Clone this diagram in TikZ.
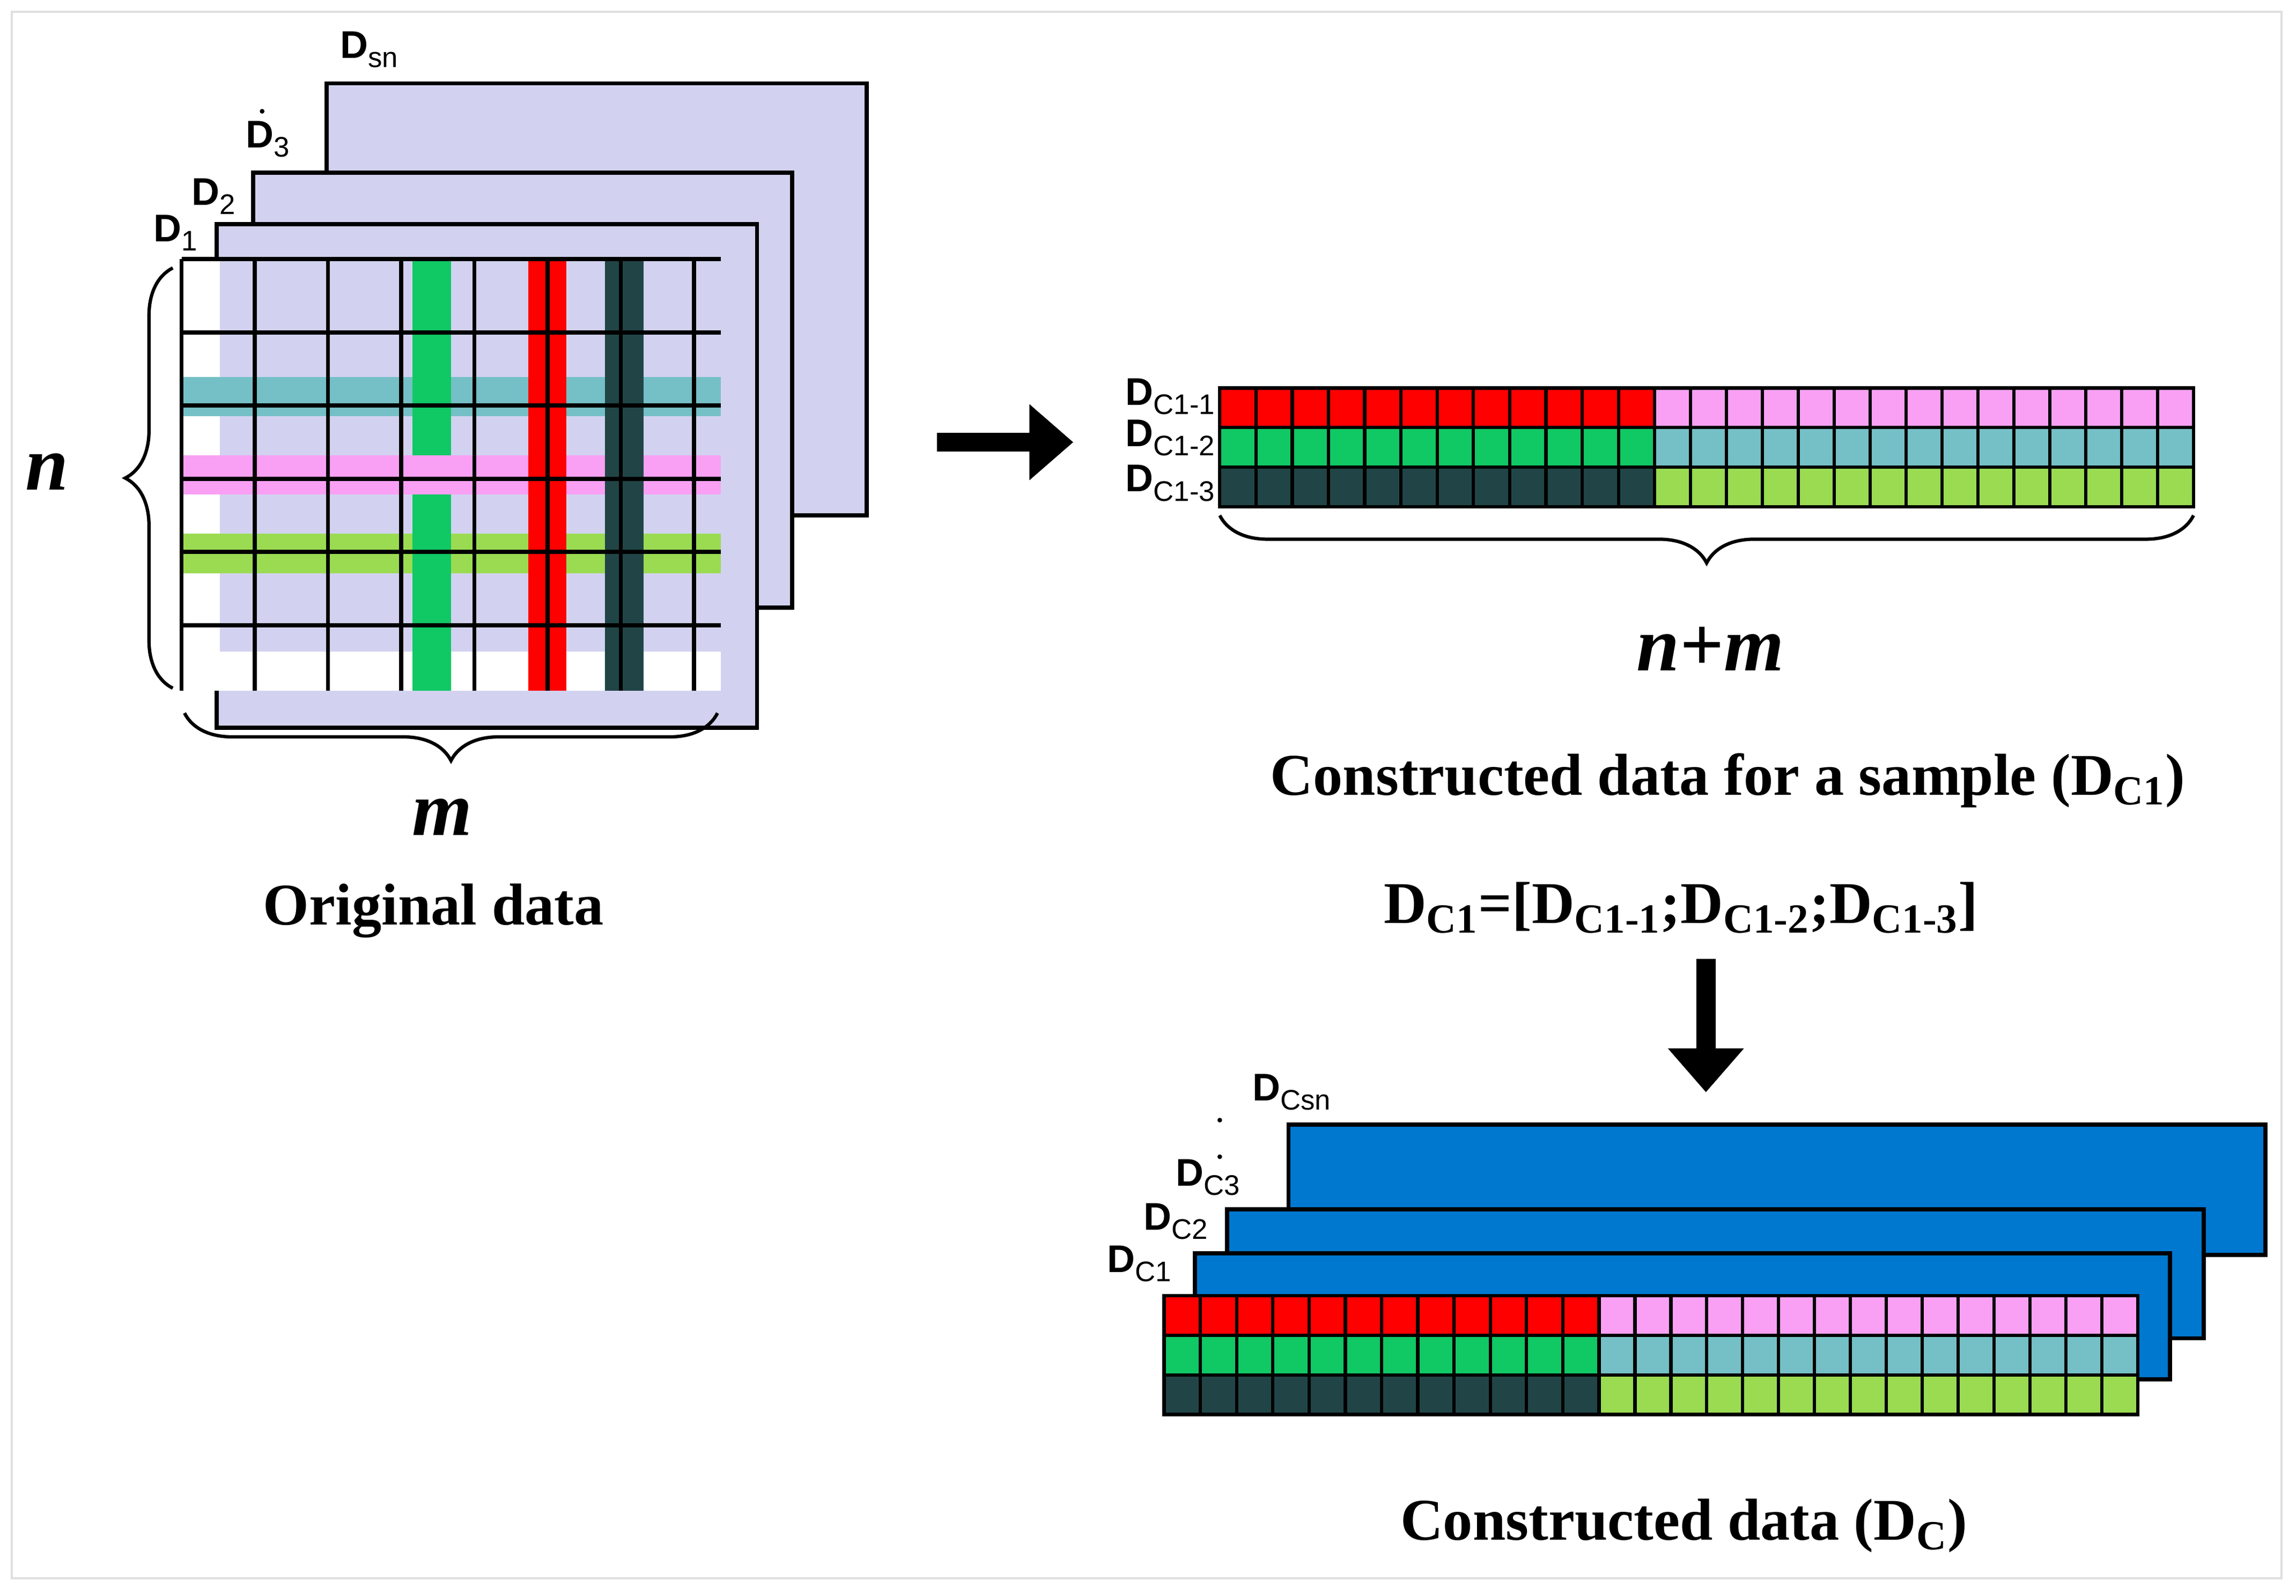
\documentclass[tikz,border=0pt]{standalone}
\usepackage{fontspec}
\setmainfont{Liberation Serif}
\newfontfamily\lsans{Liberation Sans}
\usetikzlibrary{decorations.pathreplacing}
\usetikzlibrary{arrows.meta}
\usepackage{color}
\definecolor{lav}{RGB}{210,210,240}
\definecolor{cgreen}{RGB}{16,200,100}
\definecolor{cdark}{RGB}{33,69,71}
\definecolor{ccyan}{RGB}{116,192,198}
\definecolor{cpink}{RGB}{249,160,244}
\definecolor{clime}{RGB}{154,219,82}
\definecolor{cblue}{RGB}{0,120,208}
\newcommand{\Dlab}[1]{{\lsans\bfseries D}\raisebox{-0.45ex}{\lsans\fontsize{11}{11}\selectfont #1}}
\tikzset{
	sheet/.style={draw=black, line width=1.6pt},
	lab/.style={inner sep=0pt, font=\lsans\fontsize{15}{15}\selectfont},
	ttl/.style={inner sep=0pt, font=\fontsize{23}{23}\selectfont\bfseries},
	var/.style={inner sep=0pt, font=\fontsize{30}{30}\selectfont\bfseries\itshape},
	brc/.style={decorate, decoration={brace, amplitude=0.65cm}, line width=1.3pt},
	bigarrow/.style={line width=0.26cm, -{Triangle[length=0.6cm, width=1cm]}}
}

\begin{document}
\begin{tikzpicture}[x=0.02cm, y=-0.02cm]
	\useasboundingbox (0,0) rectangle (1568,1090);
	\draw [gray!25, line width=0.8pt] (8,8) rectangle (1558,1078);

	% original data stack
	\draw [sheet, fill=lav] (223,57) rectangle (592,352);
	\draw [sheet, fill=lav] (173,118) rectangle (541,415);
	\draw [sheet, fill=lav] (148,153) rectangle (517,497);
	\node[lab] (dsn) at (252,34) {\Dlab{sn}};
	\node[lab] (d3) at (183,95) {\Dlab{3}};
	\fill (179,76) circle (1.6);
	\node[lab] (d2) at (146,134) {\Dlab{2}};
	\node[lab] (d1) at (120,159) {\Dlab{1}};

	% grid
	\begin{scope}[shift={(124,177)}, x=0.526cm, y=-0.536cm]
		\fill [lav] (0,0) rectangle (14,11);
		\fill [white] (0,0) rectangle (1,11);
		\fill [white] (0,10) rectangle (14,11);
		\fill [ccyan] (0,3) rectangle (14,4);
		\fill [cpink] (0,5) rectangle (14,6);
		\fill [clime] (0,7) rectangle (14,8);
		\fill [cgreen] (6,0) rectangle (7,5);
		\fill [cgreen] (6,6) rectangle (7,11);
		\fill [red] (9,0) rectangle (10,11);
		\fill [cdark] (11,0) rectangle (12,11);
		\draw [line width=1.6pt] (0,0) grid (14,11);
	\end{scope}
	\coordinate (nt) at (118,183);
	\coordinate (nb) at (118,470);
	\draw [brc] (nb) -- (nt);
	\node[var] (nlab) at (32,322) {n};
	\coordinate (ml) at (126,487);
	\coordinate (mr) at (490,487);
	\draw [brc] (mr) -- (ml);
	\node[var] (mlab) at (302,558) {m};
	\node[ttl] (orig) at (296,622) {Original data};

	% arrow right
	\coordinate (ar1) at (640,302);
	\coordinate (ar2) at (733,302);
	\draw [bigarrow] (ar1) -- (ar2);

	% constructed sample
	\begin{scope}[shift={(833,265)}, y=-0.54cm]
		\foreach \c [count=\r from 0] in {red,cgreen,cdark} {
			\fill [\c] (0,\r) rectangle (297,\r+1);
			\foreach \i in {0,...,11}
				\draw [line width=1.3pt] (\i*24.75,\r) rectangle (\i*24.75+24.75,\r+1);
		}
		\foreach \c [count=\r from 0] in {cpink,ccyan,clime} {
			\fill [\c] (297,\r) rectangle (665,\r+1);
			\foreach \i in {0,...,14}
				\draw [line width=1.3pt] (297+\i*24.53,\r) rectangle (297+\i*24.53+24.53,\r+1);
		}
	\end{scope}
	\node[lab, anchor=east] (dc11) at (830,271) {\Dlab{C1-1}};
	\node[lab, anchor=east] (dc12) at (830,299) {\Dlab{C1-2}};
	\node[lab, anchor=east] (dc13) at (830,330) {\Dlab{C1-3}};
	\coordinate (nml) at (833,352);
	\coordinate (nmr) at (1498,352);
	\draw [brc] (nmr) -- (nml);
	\node[var] (nmlab) at (1168,443) {n+m};
	\node[ttl] (cons1) at (1180,533) {Constructed data for a sample (D\textsubscript{C1})};
	\node[ttl] (eq) at (1148,620) {D\textsubscript{C1}=[D\textsubscript{C1-1};D\textsubscript{C1-2};D\textsubscript{C1-3}]};

	% arrow down
	\coordinate (ad1) at (1165,655);
	\coordinate (ad2) at (1165,746);
	\draw [bigarrow] (ad1) -- (ad2);

	% constructed data stack
	\draw [sheet, fill=cblue] (880,768) rectangle (1547,857);
	\draw [sheet, fill=cblue] (838,826) rectangle (1505,914);
	\draw [sheet, fill=cblue] (816,856) rectangle (1482,942);
	\begin{scope}[shift={(795,885)}, y=-0.54cm]
		\foreach \c [count=\r from 0] in {red,cgreen,cdark} {
			\fill [\c] (0,\r) rectangle (297,\r+1);
			\foreach \i in {0,...,11}
				\draw [line width=1.3pt] (\i*24.75,\r) rectangle (\i*24.75+24.75,\r+1);
		}
		\foreach \c [count=\r from 0] in {cpink,ccyan,clime} {
			\fill [\c] (297,\r) rectangle (665,\r+1);
			\foreach \i in {0,...,14}
				\draw [line width=1.3pt] (297+\i*24.53,\r) rectangle (297+\i*24.53+24.53,\r+1);
		}
	\end{scope}
	\node[lab] (dcsn) at (882,746) {\Dlab{Csn}};
	\fill (833,765) circle (1.6);
	\node[lab] (dc3) at (825,804) {\Dlab{C3}};
	\fill (833,790) circle (1.6);
	\node[lab] (dc2) at (803,834) {\Dlab{C2}};
	\node[lab] (dc1) at (778,863) {\Dlab{C1}};
	\node[ttl] (cons) at (1150,1042) {Constructed data (D\textsubscript{C})};
\end{tikzpicture}
\end{document}
